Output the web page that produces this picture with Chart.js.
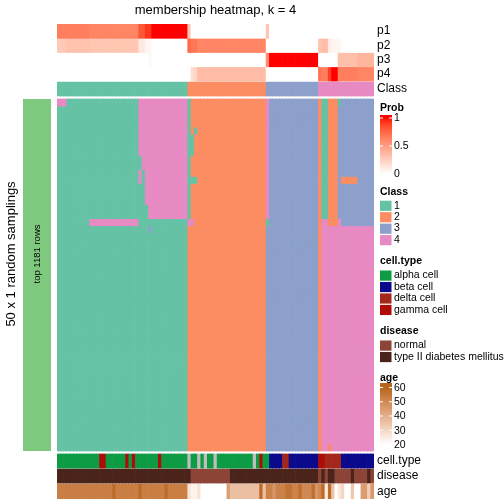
<!DOCTYPE html>
<html><head><meta charset="utf-8">
<script src="https://cdn.jsdelivr.net/npm/chart.js@4.4.1/dist/chart.umd.min.js"></script>
<style>html,body{margin:0;padding:0;background:#fff}canvas{display:block}</style>
</head><body>
<canvas id="c" width="504" height="504"></canvas>
<script>
// ---------------- DATA ----------------
const title = "membership heatmap, k = 4";
const rowTitle = "50 x 1 random samplings";
const blockLabel = "top 1181 rows";
const classLevels = ["1","2","3","4"];
// consensus class of each of the 97 samples (columns)
const columnClass = ("1111111111 1111111111 1111111111 1111111111" +
  " 2222222222 2222222222 2222" + " 3333333333 333333" + " 4444444444 4444444").replace(/ /g,"").split("");
// membership probabilities
const p1 = [0.65,0.65,0.65,0.65,0.65,0.65,0.65,0.65,0.65,0.65, 0.62,0.62,0.62,0.62,0.62,0.62,0.62,0.62,0.62,0.62, 0.62,0.62,0.62,0.62,0.62, 0.82,0.82,0.92,0.92, 1,1,1,1,1,1,1,1,1,1,1,
  0.3, 0,0,0,0,0,0,0,0,0,0, 0,0,0,0,0,0,0,0,0,0, 0,0,0,
  0.3, 0,0,0,0,0,0,0,0,0,0, 0,0,0,0,0,
  0,0,0,0,0,0,0,0,0,0, 0,0,0,0,0,0,0];
const p2 = [0.28,0.28,0.28, 0.32,0.32,0.32,0.32,0.32,0.32,0.32, 0.3,0.3,0.3,0.3,0.3,0.3,0.3,0.3,0.3,0.3, 0.3,0.3,0.3,0.3,0.3, 0.12,0.12,0.05,0.05, 0,0,0,0,0,0,0,0,0,0,0,
  0.75,0.68,0.68, 0.62,0.62,0.62,0.62,0.62,0.62,0.62,0.62,0.62,0.62, 0.62,0.62,0.62,0.62,0.62,0.62,0.62,0.62,0.62,0.62, 0.62,
  0,0,0,0,0,0,0,0,0,0, 0,0,0,0,0,0,
  0.3,0.35,0.35,0.1,0.05,0.05,0.04, 0,0,0,0,0,0,0,0,0,0];
const p3 = [0,0,0,0,0,0,0,0,0,0, 0,0,0,0,0,0,0,0,0,0, 0,0,0,0,0,0,0,0, 0.03, 0,0,0,0,0,0,0,0,0,0,0,
  0,0,0,0,0,0,0,0,0,0, 0,0,0,0,0,0,0,0,0,0, 0,0,0,0,
  0.6, 1,1,1,1,1,1,1,1,1,1, 1,1,1,1,1,
  0,0,0,0,0,0, 0.33,0.33,0.33,0.33,0.33,0.33, 0.38,0.38,0.38,0.38,0.38];
const p4 = [0,0,0,0,0,0,0,0,0,0, 0,0,0,0,0,0,0,0,0,0, 0,0,0,0,0,0,0,0,0,0, 0,0,0,0,0,0,0,0,0,0,
  0, 0.18, 0.22, 0.35,0.35,0.35,0.35,0.35,0.35,0.35,0.35,0.35,0.35, 0.35,0.35,0.35,0.35,0.35,0.35,0.35,0.35,0.35,0.35, 0.35,
  0,0,0,0,0,0,0,0,0,0, 0,0,0,0,0,0,
  0.7,0.65,0.65,0.9,1,1, 0.65,0.65,0.65,0.65,0.65,0.65, 0.62,0.62,0.62,0.62,0.62];
// class assigned in each of the 50 random samplings (rows) for each sample (columns)
const membership = [
 "444 11111 11111 11111 11111 11 44444 44444 44444 | 1 22222 22222 22222 22222 222 | 4 33333 33333 33333 | 2 11 222 1 33333 33333",
 "11111 11111 11111 11111 11111 44444 44444 44444 | 1 22222 22222 22222 22222 222 | 4 33333 33333 33333 | 2 11 222 3 33333 33333",
 "11111 11111 11111 11111 11111 44444 44444 44444 | 1 22222 22222 22222 22222 222 | 4 33333 33333 33333 | 2 11 222 3 33333 33333",
 "11111 11111 11111 11111 11111 44444 44444 44444 | 1 22222 22222 22222 22222 222 | 4 33333 33333 33333 | 2 11 222 3 33333 33333",
 "11111 11111 11111 11111 11111 44444 44444 44444 | 1 2 1 22222 22222 22222 22222 2 | 4 33333 33333 33333 | 2 11 222 3 33333 33333",
 "11111 11111 11111 11111 11111 44444 44444 44444 | 11 22222 22222 22222 22222 22 | 4 33333 33333 33333 | 2 11 222 3 33333 33333",
 "11111 11111 11111 11111 11111 44444 44444 44444 | 11 22222 22222 22222 22222 22 | 4 33333 33333 33333 | 2 11 222 3 33333 33333",
 "11111 11111 11111 11111 11111 44444 44444 44444 | 11 22222 22222 22222 22222 22 | 4 33333 33333 33333 | 2 11 222 3 33333 33333",
 "11111 11111 11111 11111 11111 1 44444 44444 4444 | 1 22222 22222 22222 22222 222 | 4 33333 33333 33333 | 2 11 222 3 33333 33333",
 "11111 11111 11111 11111 11111 1 44444 44444 4444 | 1 22222 22222 22222 22222 222 | 4 33333 33333 33333 | 2 11 222 3 33333 33333",
 "11111 11111 11111 11111 11111 4 1 44444 44444 444 | 1 22222 22222 22222 22222 222 | 4 33333 33333 33333 | 2 11 222 3 33333 33333",
 "11111 11111 11111 11111 11111 4 1 44444 44444 444 | 111 22222 22222 22222 22222 2 | 4 33333 33333 33333 | 2 11 222 3 22222 33333",
 "11111 11111 11111 11111 11111 11 44444 44444 444 | 1 22222 22222 22222 22222 222 | 4 33333 33333 33333 | 2 11 222 3 33333 33333",
 "11111 11111 11111 11111 11111 11 44444 44444 444 | 1 22222 22222 22222 22222 222 | 4 33333 33333 33333 | 2 11 222 3 33333 33333",
 "11111 11111 11111 11111 11111 11 44444 44444 444 | 1 22222 22222 22222 22222 222 | 4 33333 33333 33333 | 2 11 222 3 33333 33333",
 "11111 11111 11111 11111 11111 111 44444 44444 44 | 1 22222 22222 22222 22222 222 | 4 33333 33333 33333 | 2 11 222 3 33333 33333",
 "11111 11111 11111 11111 11111 111 44444 44444 44 | 1 22222 22222 22222 22222 222 | 4 33333 33333 33333 | 2 11 222 3 33333 33333",
 "11111 11111 44444 44444 44444 11111 11111 11111 | 44 22222 22222 22222 22222 22 | 1 33333 33333 33333 | 2 44 222 4 33333 33333",
 "11111 11111 11111 11111 11111 111 3 11111 11111 1 | 22222 22222 22222 22222 2222 | 33333 33333 33333 3 | 2 44444 44444 44444 4",
 "11111 11111 11111 11111 11111 11111 11111 11111 | 22222 22222 22222 22222 2222 | 33333 33333 33333 3 | 2 44444 44444 44444 4",
 "11111 11111 11111 11111 11111 11111 11111 11111 | 22222 22222 22222 22222 2222 | 33333 33333 33333 3 | 2 44444 44444 44444 4",
 "11111 11111 11111 11111 11111 11111 11111 11111 | 22222 22222 22222 22222 2222 | 33333 33333 33333 3 | 2 44444 44444 44444 4",
 "11111 11111 11111 11111 11111 11111 11111 11111 | 22222 22222 22222 22222 2222 | 33333 33333 33333 3 | 2 44444 44444 44444 4",
 "11111 11111 11111 11111 11111 11111 11111 11111 | 22222 22222 22222 22222 2222 | 33333 33333 33333 3 | 2 44444 44444 44444 4",
 "11111 11111 11111 11111 11111 11111 11111 11111 | 22222 22222 22222 22222 2222 | 33333 33333 33333 3 | 2 44444 44444 44444 4",
 "11111 11111 11111 11111 11111 11111 11111 11111 | 22222 22222 22222 22222 2222 | 33333 33333 33333 3 | 2 44444 44444 44444 4",
 "11111 11111 11111 11111 11111 11111 11111 11111 | 22222 22222 22222 22222 2222 | 33333 33333 33333 3 | 2 44444 44444 44444 4",
 "11111 11111 11111 11111 11111 11111 11111 11111 | 22222 22222 22222 22222 2222 | 33333 33333 33333 3 | 2 44444 44444 44444 4",
 "11111 11111 11111 11111 11111 11111 11111 11111 | 22222 22222 22222 22222 2222 | 33333 33333 33333 3 | 2 44444 44444 44444 4",
 "11111 11111 11111 11111 11111 11111 11111 11111 | 22222 22222 22222 22222 2222 | 33333 33333 33333 3 | 2 44444 44444 44444 4",
 "11111 11111 11111 11111 11111 11111 11111 11111 | 22222 22222 22222 22222 2222 | 33333 33333 33333 3 | 2 44444 44444 44444 4",
 "11111 11111 11111 11111 11111 11111 11111 11111 | 22222 22222 22222 22222 2222 | 33333 33333 33333 3 | 2 44444 44444 44444 4",
 "11111 11111 11111 11111 11111 11111 11111 11111 | 22222 22222 22222 22222 2222 | 33333 33333 33333 3 | 2 44444 44444 44444 4",
 "11111 11111 11111 11111 11111 11111 11111 11111 | 22222 22222 22222 22222 2222 | 33333 33333 33333 3 | 2 44444 44444 44444 4",
 "11111 11111 11111 11111 11111 11111 11111 11111 | 22222 22222 22222 22222 2222 | 33333 33333 33333 3 | 2 44444 44444 44444 4",
 "11111 11111 11111 11111 11111 11111 11111 11111 | 22222 22222 22222 22222 2222 | 33333 33333 33333 3 | 2 44444 44444 44444 4",
 "11111 11111 11111 11111 11111 11111 11111 11111 | 22222 22222 22222 22222 2222 | 33333 33333 33333 3 | 2 44444 44444 44444 4",
 "11111 11111 11111 11111 11111 11111 11111 11111 | 22222 22222 22222 22222 2222 | 33333 33333 33333 3 | 2 44444 44444 44444 4",
 "11111 11111 11111 11111 11111 11111 11111 11111 | 22222 22222 22222 22222 2222 | 33333 33333 33333 3 | 2 44444 44444 44444 4",
 "11111 11111 11111 11111 11111 11111 11111 11111 | 22222 22222 22222 22222 2222 | 33333 33333 33333 3 | 2 44444 44444 44444 4",
 "11111 11111 11111 11111 11111 11111 11111 11111 | 22222 22222 22222 22222 2222 | 33333 33333 33333 3 | 2 44444 44444 44444 4",
 "11111 11111 11111 11111 11111 11111 11111 11111 | 22222 22222 22222 22222 2222 | 33333 33333 33333 3 | 2 44444 44444 44444 4",
 "11111 11111 11111 11111 11111 11111 11111 11111 | 22222 22222 22222 22222 2222 | 33333 33333 33333 3 | 2 44444 44444 44444 4",
 "11111 11111 11111 11111 11111 11111 11111 11111 | 22222 22222 22222 22222 2222 | 33333 33333 33333 3 | 2 44444 44444 44444 4",
 "11111 11111 11111 11111 11111 11111 11111 11111 | 22222 22222 22222 22222 2222 | 33333 33333 33333 3 | 2 44444 44444 44444 4",
 "11111 11111 11111 11111 11111 11111 11111 11111 | 22222 22222 22222 22222 2222 | 33333 33333 33333 3 | 2 44444 44444 44444 4",
 "11111 11111 11111 11111 11111 11111 11111 11111 | 22222 22222 22222 22222 2222 | 33333 33333 33333 3 | 2 44444 44444 44444 4",
 "11111 11111 11111 11111 11111 11111 11111 11111 | 22222 22222 22222 22222 2222 | 33333 33333 33333 3 | 2 44444 44444 44444 4",
 "11111 11111 11111 11111 11111 11111 11111 11111 | 22222 22222 22222 22222 2222 | 33333 33333 33333 3 | 2 44444 44444 44444 4",
 "11111 11111 11111 11111 11111 11111 11111 11111 | 22222 22222 22222 22222 2222 | 33333 33333 33333 3 | 2 44 2 44 4 44444 44444"
].map(s => s.replace(/[ |]/g, "").split(""));
// cell type: a = alpha, b = beta, d = delta, g = gamma, n = not available
const cellTypeLevels = ["alpha cell","beta cell","delta cell","gamma cell"];
const cellType = ("aaaaaaaaaaaaa gg aaaaaa g a g aaaaaaa g aaaaaaaa" +
  " n aa n a n aa n aaaaaaaaaaa n a g a" + " a bbbb dd bbbbbbbbb" + " gg ddddd bbbbbbbbbb").replace(/ /g,"").split("");
// disease: N = normal, T = type II diabetes mellitus
const diseaseLevels = ["normal","type II diabetes mellitus"];
const disease = ("TTTTTTTTTT TTTTTTTTTT TTTTTTTTTT TTTTTTTTTT" +
  " T NNNNNNNNNNNN TTTTTTTTTTT" + " TTTTTTTTTT TTTTTT" + " N T N TT NNNNN T NNNN T N").replace(/ /g,"").split("");
const age = [53,53,53,53,53,53,53,53,53,53, 53,53,53,53,53,53,53,58,53,53, 53,53,53,53,53,58,53,53,53,53, 53,53,53,58,53,53,53,53,53,53,
  27,23,23,27, 20,20,20,20,20,20,20,20, 45, 36,36,36,36,36,36,36,36,36, 58, 36,
  52,52,47,52,52,52,56,56,52,52,57,50,50,50,57,47,
  50,58,25,58,35,20,26,30,20,20,34,20,20,45,45,32,46];
const probTicks = [1, 0.5, 0];
const ageTicks = [60, 50, 40, 30, 20];

// ---------------- STYLE ----------------
const FONT = '"Liberation Sans", Arial, Helvetica, sans-serif';
const classColors = {"1":"#66C2A5","2":"#FC8D62","3":"#8DA0CB","4":"#E78AC3"};
const cellTypeColors = {a:"#0D9B44", b:"#0B0A8C", d:"#A3281B", g:"#AE0C09", n:"#BEBEBE"};
const diseaseColors = {N:"#8C4437", T:"#4A241A"};
const blockColor = "#7FC97F";
const probLow = "#FFFFFF", probHigh = "#FF0000";
const ageLow = "#FFFFFF", ageHigh = "#B8641B";
const ageRange = [20, 60];

// colour interpolation in CIE Lab (like circlize::colorRamp2)
function hexToRgb(h){h=h.replace("#","");return [0,2,4].map(i=>parseInt(h.substr(i,2),16));}
function toLin(c){c/=255;return c<=0.04045?c/12.92:Math.pow((c+0.055)/1.055,2.4);}
function fromLin(c){c=c<=0.0031308?12.92*c:1.055*Math.pow(c,1/2.4)-0.055;return Math.round(Math.max(0,Math.min(1,c))*255);}
function rgbToLab(rgb){const [R,G,B]=rgb.map(toLin);
  const X=(0.4124564*R+0.3575761*G+0.1804375*B)/0.95047, Y=(0.2126729*R+0.7151522*G+0.0721750*B), Z=(0.0193339*R+0.1191920*G+0.9503041*B)/1.08883;
  const f=t=>t>0.008856?Math.cbrt(t):7.787*t+16/116; const fx=f(X),fy=f(Y),fz=f(Z);
  return [116*fy-16,500*(fx-fy),200*(fy-fz)];}
function labToRgb([L,a,b]){const fy=(L+16)/116,fx=fy+a/500,fz=fy-b/200;
  const fi=t=>t*t*t>0.008856?t*t*t:(t-16/116)/7.787;
  const X=fi(fx)*0.95047,Y=fi(fy),Z=fi(fz)*1.08883;
  const R=3.2404542*X-1.5371385*Y-0.4985314*Z, G=-0.9692660*X+1.8760108*Y+0.0415560*Z, B=0.0556434*X-0.2040259*Y+1.0572252*Z;
  return [fromLin(R),fromLin(G),fromLin(B)];}
function ramp(lo,hi,c0,c1){const A=rgbToLab(hexToRgb(c0)),B=rgbToLab(hexToRgb(c1));
  return v=>{let t=(v-lo)/(hi-lo);t=Math.max(0,Math.min(1,t));const rgb=labToRgb(A.map((x,i)=>x+(B[i]-x)*t));return `rgb(${rgb[0]},${rgb[1]},${rgb[2]})`;};}
const probColor = ramp(0,1,probLow,probHigh);
const ageColor = ramp(ageRange[0],ageRange[1],ageLow,ageHigh);

// ---------------- LAYOUT (y in canvas pixels, via the y scale) ----------------
const PX = {top:24, bottom:499, left:57, right:374};
const probRows = [[24,38.25],[38.25,52.5],[52.5,66.75],[66.75,81]];
const classRow = [82,96];
const mainBox = [99,451];
const cellTypeRow = [454,468], diseaseRow = [469,483], ageRow = [484,499];
const sideTextCenter = 254;

const N = columnClass.length;
const labels = columnClass.map((_, i) => "s" + (i + 1));
function track(span, colors){
  return {data: colors.map(() => [span[0], span[1]]), backgroundColor: colors,
    borderWidth: 0, grouped: false, barPercentage: 1, categoryPercentage: 1, inflateAmount: 0.35};
}
const datasets = [];
[p1,p2,p3,p4].forEach((arr,i) => datasets.push(track(probRows[i], arr.map(probColor))));
datasets.push(track(classRow, columnClass.map(k => classColors[k])));
const rowH = (mainBox[1]-mainBox[0]) / membership.length;
membership.forEach((row,r) => datasets.push(track([mainBox[0]+r*rowH, mainBox[0]+(r+1)*rowH], row.map(k => classColors[k]))));
datasets.push(track(cellTypeRow, cellType.map(k => cellTypeColors[k])));
datasets.push(track(diseaseRow, disease.map(k => diseaseColors[k])));
datasets.push(track(ageRow, age.map(ageColor)));

const lengthsOk = [p1,p2,p3,p4,cellType,disease,age].every(a => a.length === N) && membership.every(r => r.length === N);

const deco = {
  id: 'deco',
  afterDatasetsDraw(chart){
    const ctx = chart.ctx, ys = chart.scales.y, ca = chart.chartArea;
    ctx.save();
    ctx.textBaseline = 'middle';
    ctx.fillStyle = '#000';
    // title
    ctx.font = '13px ' + FONT; ctx.textAlign = 'center';
    ctx.fillText(title, (ca.left + ca.right) / 2, 10.5);
    // row title
    const mTop = ys.getPixelForValue(mainBox[0]), mBot = ys.getPixelForValue(mainBox[1]);
    const tc = ys.getPixelForValue(sideTextCenter);
    ctx.save(); ctx.translate(11.5, tc); ctx.rotate(-Math.PI/2);
    ctx.fillText(rowTitle, 0, 0); ctx.restore();
    // block bar with label
    ctx.fillStyle = blockColor; ctx.fillRect(23, mTop, 28, mBot - mTop);
    ctx.fillStyle = '#000'; ctx.font = '9.5px ' + FONT;
    ctx.save(); ctx.translate(37, tc); ctx.rotate(-Math.PI/2);
    ctx.fillText(blockLabel, 0, 0); ctx.restore();
    // annotation names
    ctx.font = '12px ' + FONT; ctx.textAlign = 'left';
    const names = [["p1",probRows[0]],["p2",probRows[1]],["p3",probRows[2]],["p4",probRows[3]],["Class",classRow],
                   ["cell.type",cellTypeRow],["disease",diseaseRow],["age",ageRow]];
    names.forEach(([t,s]) => ctx.fillText(t, ca.right + 3, ys.getPixelForValue((s[0]+s[1])/2)));
    // legends
    const LX = 380, TX = 394;
    const title_ = (t,y) => {ctx.fillStyle='#000'; ctx.font = 'bold 10.5px ' + FONT; ctx.fillText(t, LX, y);};
    const label_ = (t,y) => {ctx.fillStyle='#000'; ctx.font = '10.5px ' + FONT; ctx.fillText(t, TX, y);};
    // Prob
    title_("Prob", 108.5);
    const pTop = 118, pStep = 28;
    for (let y = 115; y < 177; y++) { const v = 1 - ((y + 0.5) - pTop) / (2 * pStep); ctx.fillStyle = probColor(v); ctx.fillRect(LX, y, 12, 1); }
    probTicks.forEach((v,i) => { const y = pTop + i * pStep; ctx.fillStyle = '#fff'; ctx.fillRect(LX, y - 0.5, 3, 1); ctx.fillRect(LX + 9, y - 0.5, 3, 1); label_(String(v), y + 0.5); });
    // Class
    title_("Class", 192);
    classLevels.forEach((k,i) => { const yc = 205.7 + i * 11.45; ctx.fillStyle = classColors[k]; ctx.fillRect(LX, yc - 5, 11.5, 10.2); label_(k, yc); });
    // cell.type
    title_("cell.type", 261.5);
    ["a","b","d","g"].forEach((k,i) => { const yc = 275.5 + i * 11.45; ctx.fillStyle = cellTypeColors[k]; ctx.fillRect(LX, yc - 5, 11.5, 10.2); label_(cellTypeLevels[i], yc); });
    // disease
    title_("disease", 331);
    ["N","T"].forEach((k,i) => { const yc = 345.5 + i * 11.45; ctx.fillStyle = diseaseColors[k]; ctx.fillRect(LX, yc - 5, 11.5, 10.2); label_(diseaseLevels[i], yc); });
    // age
    title_("age", 378.5);
    const aTop = 387.5, aStep = 14.25;
    for (let y = 383; y < 448; y++) { const v = ageTicks[0] - ((y + 0.5) - aTop) / aStep * 10; ctx.fillStyle = ageColor(v); ctx.fillRect(LX, y, 12, 1); }
    ageTicks.forEach((v,i) => { const y = aTop + i * aStep; ctx.fillStyle = '#fff'; ctx.fillRect(LX, y - 0.5, 3, 1); ctx.fillRect(LX + 9, y - 0.5, 3, 1); label_(String(v), y + 0.5); });
    if (!lengthsOk) { ctx.fillStyle = 'red'; ctx.font = 'bold 14px ' + FONT; ctx.fillText("LENGTH MISMATCH", 100, 300); }
    ctx.restore();
  }
};

new Chart(document.getElementById('c'), {
  type: 'bar',
  data: { labels, datasets },
  options: {
    responsive: false, animation: false, devicePixelRatio: 1,
    layout: { padding: { left: PX.left, right: 504 - PX.right, top: PX.top, bottom: 504 - PX.bottom } },
    scales: {
      x: { type: 'category', display: false, offset: true, grid: {display:false} },
      y: { type: 'linear', display: false, min: PX.top, max: PX.bottom, reverse: true }
    },
    plugins: { legend: { display: false }, tooltip: { enabled: false }, title: { display: false } }
  },
  plugins: [deco]
});
</script>
</body></html>
